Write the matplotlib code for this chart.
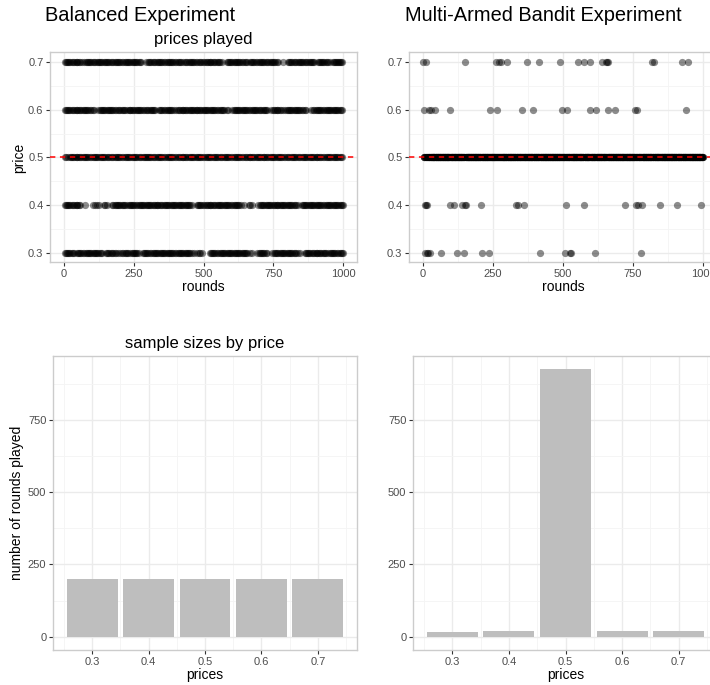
import matplotlib
matplotlib.use("Agg")
import matplotlib.pyplot as plt
from matplotlib.ticker import FixedLocator

plt.rcParams['font.family'] = ['Liberation Sans', 'DejaVu Sans']

# ---- data -------------------------------------------------------------
prices = [0.3, 0.4, 0.5, 0.6, 0.7]
price_labels = ['0.3', '0.4', '0.5', '0.6', '0.7']
round_ticks = [0, 250, 500, 750, 1000]
count_ticks = [0, 250, 500, 750]
n_rounds = 1000
block = 10

# Balanced experiment: number of plays of each price in every 10-round block
balanced_03 = ("2322132232" "2322032221" "2231232023" "2232232322" "2322321121"
               "0023223223" "2322321102" "3220132232" "2322102322" "3223123223")
balanced_04 = ("2322320100" "1210210232" "2312322322" "3223223223" "2322320132"
               "2232232232" "2321102101" "3223223232" "2322032232" "2322322323")
balanced_05 = ("2132322322" "2322322232" "2232232223" "3222322322" "2232232232"
               "2322322232" "2232223223" "2322322322" "2232232232" "3222322322")
balanced_06 = ("2322322322" "2023223222" "2313223222" "2320322321" "2232232322"
               "3223223120" "2322322232" "2230223212" "3223222012" "2322322322")
balanced_07 = ("2322321232" "2232232223" "2232232201" "3222322322" "2312232222"
               "2232231023" "2232221322" "3222322010" "2322322232" "0332212332")
balanced_counts = [200, 200, 200, 200, 200]

# Bandit experiment: rounds on which a price other than 0.5 was played
bandit_03_rounds = [7, 13, 18, 25, 65, 123, 146, 212, 236, 418, 508, 524, 530, 613, 780]
bandit_04_rounds = [6, 10, 15, 98, 111, 140, 150, 155, 206, 331, 338, 360, 512, 575,
                    720, 760, 767, 783, 845, 907, 992]
bandit_06_rounds = [4, 22, 30, 42, 95, 240, 264, 355, 393, 498, 514, 597, 619, 662,
                    686, 757, 764, 938]
bandit_07_rounds = [1, 12, 149, 262, 271, 280, 301, 371, 413, 490, 554, 574, 595, 639,
                    652, 657, 662, 819, 824, 926, 946]


def blocks_to_rounds(blocks):
    rounds = []
    for i, ch in enumerate(blocks):
        c = int(ch)
        for k in range(c):
            rounds.append(i * block + (k + 0.5) * block / c)
    return rounds


balanced_rounds = [blocks_to_rounds(s) for s in
                   (balanced_03, balanced_04, balanced_05, balanced_06, balanced_07)]

taken = set(bandit_03_rounds) | set(bandit_04_rounds) | set(bandit_06_rounds) | set(bandit_07_rounds)
bandit_05_rounds = [r for r in range(1, n_rounds + 1) if r not in taken]
bandit_rounds = [bandit_03_rounds, bandit_04_rounds, bandit_05_rounds,
                 bandit_06_rounds, bandit_07_rounds]
bandit_counts = [len(r) for r in bandit_rounds]

# ---- figure -----------------------------------------------------------
W, H = 710, 685
fig = plt.figure(figsize=(W / 100, H / 100), dpi=100)
fig.patch.set_facecolor('white')


def axes_px(x0, x1, y0, y1):
    return fig.add_axes([x0 / W, 1 - y1 / H, (x1 - x0) / W, (y1 - y0) / H])


def style(ax):
    ax.set_facecolor('white')
    for s in ax.spines.values():
        s.set_color('#CCCCCC')
        s.set_linewidth(1.0)
    ax.grid(which='major', color='#EBEBEB', lw=1.0)
    ax.grid(which='minor', color='#F4F4F4', lw=0.6)
    ax.set_axisbelow(True)
    ax.tick_params(which='major', length=2.75, width=0.8, color='#333333',
                   labelsize=8, labelcolor='#4D4D4D', pad=2)
    ax.tick_params(which='minor', length=0)


def scatter_panel(ax, rounds_by_price):
    for p, rr in zip(prices, rounds_by_price):
        ax.scatter(rr, [p] * len(rr), s=27, c='black', alpha=0.45,
                   linewidths=0, zorder=2)
    ax.axhline(0.5, color='red', lw=1.1, linestyle=(0, (3.5, 3)), zorder=3)
    ax.set_xlim(-50, 1050)
    ax.set_ylim(0.28, 0.72)
    ax.xaxis.set_major_locator(FixedLocator(round_ticks))
    ax.xaxis.set_minor_locator(FixedLocator([125, 375, 625, 875]))
    ax.set_xticklabels([str(t) for t in round_ticks])
    ax.yaxis.set_major_locator(FixedLocator(prices))
    ax.yaxis.set_minor_locator(FixedLocator([0.35, 0.45, 0.55, 0.65]))
    ax.set_yticklabels(price_labels)
    ax.set_xlabel('rounds', fontsize=10, labelpad=1)
    style(ax)


def bar_panel(ax, counts, ymax):
    ax.bar(prices, counts, width=0.09, color='#BEBEBE', zorder=2)
    ax.set_xlim(0.2305, 0.7695)
    ax.set_ylim(-0.05 * ymax, 1.05 * ymax)
    ax.xaxis.set_major_locator(FixedLocator(prices))
    ax.xaxis.set_minor_locator(FixedLocator([0.25, 0.35, 0.45, 0.55, 0.65, 0.75]))
    ax.set_xticklabels(price_labels)
    ax.yaxis.set_major_locator(FixedLocator(count_ticks))
    ax.yaxis.set_minor_locator(FixedLocator([125, 375, 625, 875]))
    ax.set_yticklabels([str(t) for t in count_ticks])
    ax.set_xlabel('prices', fontsize=10, labelpad=1)
    style(ax)


ymax = max(max(bandit_counts), max(balanced_counts))

ax_tl = axes_px(50, 357, 52.5, 262.5)
scatter_panel(ax_tl, balanced_rounds)
ax_tl.set_ylabel('price', fontsize=10, labelpad=1)
ax_tl.set_title('prices played', fontsize=12, pad=6)

ax_tr = axes_px(409, 717, 52.5, 262.5)
scatter_panel(ax_tr, bandit_rounds)

ax_bl = axes_px(53, 357, 356, 650)
bar_panel(ax_bl, balanced_counts, ymax)
ax_bl.set_ylabel('number of rounds played', fontsize=10, labelpad=3)
ax_bl.set_title('sample sizes by price', fontsize=12, pad=6)

ax_br = axes_px(413, 718, 356, 650)
bar_panel(ax_br, bandit_counts, ymax)

fig.text(140 / W, 1 - 20.7 / H, 'Balanced Experiment', fontsize=14.4,
         ha='center', va='baseline', color='black')
fig.text(543 / W, 1 - 20.7 / H, 'Multi-Armed Bandit Experiment', fontsize=14.4,
         ha='center', va='baseline', color='black')

fig.savefig('out.png', dpi=100, facecolor='white')
